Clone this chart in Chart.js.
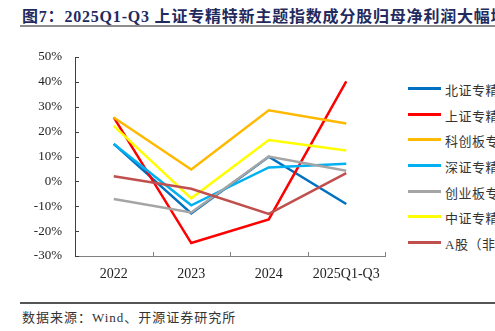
<!DOCTYPE html>
<html>
<head>
<meta charset="utf-8">
<script src="https://cdn.jsdelivr.net/npm/chart.js@4.4.1/dist/chart.umd.min.js"></script>
<style>
  body { margin: 0; background: #fff; }
  #wrap { position: relative; width: 495px; height: 331px; overflow: hidden; background: #fff; }
  #title {
    position: absolute; left: 22px; top: 3px; white-space: nowrap;
    font: bold 16px "Liberation Serif", "Noto Sans CJK SC", serif;
    letter-spacing: 0.8px; color: #1f2b5e;
  }
  #titleRule { position: absolute; left: 20px; right: 0; top: 25px; height: 2px; background: #8c8c8c; }
  #myChart { position: absolute; left: 0; top: 0; }
  #legend { position: absolute; left: 408px; top: 0; }
  .item { position: absolute; left: 0; white-space: nowrap; height: 16px; }
  .item i { position: absolute; left: 0; top: 7px; width: 33px; height: 3px; }
  .item span {
    position: absolute; left: 37px; top: 0; line-height: 16px;
    font: 13px "Liberation Serif", "Noto Sans CJK SC", serif; color: #333; letter-spacing: 0.5px;
  }
  #srcRule { position: absolute; left: 20px; right: 0; top: 302px; height: 1.5px; background: #555; }
  #source {
    position: absolute; left: 22px; top: 307px; white-space: nowrap;
    font: 13px "Liberation Serif", "Noto Sans CJK SC", serif; color: #333; letter-spacing: 1px;
  }
</style>
</head>
<body>
<div id="wrap">
  <div id="title">图7：2025Q1-Q3 上证专精特新主题指数成分股归母净利润大幅增长</div>
  <div id="titleRule"></div>
  <canvas id="myChart" width="400" height="290"></canvas>
  <div id="legend"></div>
  <div id="srcRule"></div>
  <div id="source">数据来源：Wind、开源证券研究所</div>
</div>
<script>
// 归母净利润同比增速 (%)
const years = ['2022', '2023', '2024', '2025Q1-Q3'];
const yTicks = [-30, -20, -10, 0, 10, 20, 30, 40, 50];

const seriesNames = ['北证专精特新', '上证专精特新', '科创板专精特新', '深证专精特新', '创业板专精特新', '中证专精特新', 'A股（非金融）'];
const seriesColors = ['#0070c0', '#ff0000', '#ffb900', '#00b0f0', '#a5a5a5', '#ffff00', '#c0504d'];

const beizheng = [15.1, -12.9, 9.9, -9.1];
const shangzheng = [25.7, -24.8, -15.3, 40.2];
const kechuang = [25.7, 4.8, 28.6, 23.3];
const shenzheng = [15.0, -9.6, 5.6, 7.1];
const chuangye = [-7.1, -12.5, 10.0, 4.3];
const zhongzheng = [22.3, -6.8, 16.6, 12.4];
const aShare = [2.1, -3.0, -13.1, 3.3];

const seriesData = [beizheng, shangzheng, kechuang, shenzheng, chuangye, zhongzheng, aShare];

// small inward tick marks on both axes
const innerTicks = {
    id: 'innerTicks',
    afterDraw(chart) {
        const ctx = chart.ctx;
        const area = chart.chartArea;
        const x = chart.scales.x, y = chart.scales.y;
        ctx.save();
        ctx.lineWidth = 1;
        ctx.strokeStyle = '#404040';
        yTicks.forEach(v => {
            const py = Math.round(y.getPixelForValue(v)) + 0.5;
            ctx.beginPath();
            ctx.moveTo(area.left, py);
            ctx.lineTo(area.left + 4, py);
            ctx.stroke();
        });
        ctx.strokeStyle = '#808080';
        for (let i = 1; i <= years.length; i++) {
            const px = Math.round(x.getPixelForValue(i - 0.5)) + 0.5;
            ctx.beginPath();
            ctx.moveTo(px, area.bottom);
            ctx.lineTo(px, area.bottom - 4);
            ctx.stroke();
        }
        ctx.restore();
    }
};

new Chart('myChart', {
    type: 'line',
    data: {
        labels: years,
        datasets: seriesData.map((d, i) => ({
            label: seriesNames[i],
            data: d,
            borderColor: seriesColors[i],
            backgroundColor: seriesColors[i],
            borderWidth: 2.5,
            pointRadius: 0,
            tension: 0,
            fill: false,
            order: seriesData.length - i
        }))
    },
    options: {
        responsive: false,
        animation: false,
        devicePixelRatio: 1,
        layout: { padding: { top: 57, right: 15, left: 0, bottom: 0 } },
        plugins: { legend: { display: false }, tooltip: { enabled: false } },
        scales: {
            x: {
                offset: true,
                grid: { display: true, drawOnChartArea: false, drawTicks: false },
                border: { display: true, color: '#808080', width: 1 },
                ticks: { padding: 10, color: '#222', font: { family: 'Liberation Serif', size: 14 } },
                afterFit: s => { s.height = 34; }
            },
            y: {
                min: -30,
                max: 50,
                grid: { display: true, drawOnChartArea: false, drawTicks: false },
                border: { display: true, color: '#404040', width: 1 },
                ticks: {
                    stepSize: 10,
                    padding: 13,
                    color: '#222',
                    font: { family: 'Liberation Serif', size: 13 },
                    callback: v => v + '%'
                },
                afterFit: s => { s.width = 75; }
            }
        }
    },
    plugins: [innerTicks]
});

// legend on the right, rows built from the series lists
const legendRows = [88, 114, 139, 165, 191, 216, 242];
const legend = document.getElementById('legend');
seriesNames.forEach((name, i) => {
    const row = document.createElement('div');
    row.className = 'item';
    row.style.top = (legendRows[i] - 8) + 'px';
    row.innerHTML = '<i style="background:' + seriesColors[i] + '"></i><span>' + name + '</span>';
    legend.appendChild(row);
});
</script>
</body>
</html>
